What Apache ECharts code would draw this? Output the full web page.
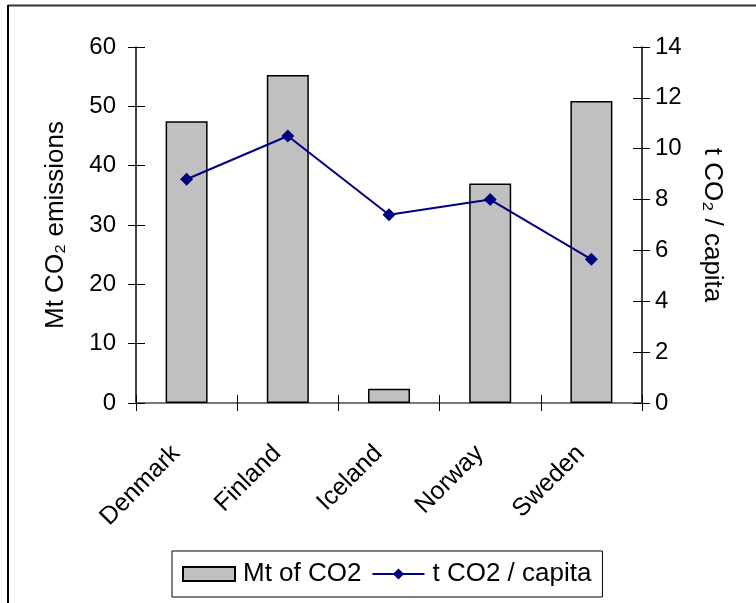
<!DOCTYPE html>
<html>
<head>
<meta charset="utf-8">
<script src="https://cdn.jsdelivr.net/npm/echarts@6/dist/echarts.min.js"></script>
<style>
  html, body { margin: 0; padding: 0; background: #fff; }
  #main { width: 756px; height: 603px; }
</style>
</head>
<body>
<div id="main"></div>
<script>
var countries = ['Denmark', 'Finland', 'Iceland', 'Norway', 'Sweden'];
var mtCO2 = [47.5, 55.3, 2.4, 37.0, 50.9];
var perCapita = [8.8, 10.5, 7.4, 8.0, 5.65];
var leftTicks = { min: 0, max: 60, interval: 10 };
var rightTicks = { min: 0, max: 14, interval: 2 };

var font = 'Liberation Sans, Arial, sans-serif';
var myChart = echarts.init(document.getElementById('main'));

option = {
    textStyle: { fontFamily: font },
    animation: false,
    grid: { left: 136, right: 114, top: 47, bottom: 200 },
    graphic: [
        { type: 'line', shape: { x1: 8, y1: 5.5, x2: 756, y2: 5.5 }, style: { stroke: '#333', lineWidth: 2 } },
        { type: 'line', shape: { x1: 8, y1: 5, x2: 8, y2: 603 }, style: { stroke: '#000', lineWidth: 2 } }
    ],
    legend: {
        left: 172,
        top: 551,
        padding: [10, 11, 10, 10],
        borderColor: '#000',
        borderWidth: 1,
        itemWidth: 52,
        itemHeight: 14,
        itemGap: 10,
        textStyle: { fontSize: 26, color: '#000', fontFamily: font, padding: [0, 0, 0, 3] },
        data: [{ name: 'Mt of CO2', icon: 'rect' }, { name: 't CO2 / capita' }]
    },
    xAxis: [
        {
            type: 'category',
            data: countries,
            position: 'bottom',
            axisLine: { lineStyle: { color: '#333', width: 1.5 } },
            axisTick: { show: true, length: 8, lineStyle: { color: '#000' } },
            axisLabel: { rotate: 45, fontSize: 25, color: '#000', margin: 36, padding: [0, 15, 0, 0], fontFamily: font },
            splitLine: { show: false }
        },
        {
            type: 'category',
            data: countries,
            position: 'bottom',
            axisLine: { show: false },
            axisTick: { show: true, inside: true, length: 8, lineStyle: { color: '#000' } },
            axisLabel: { show: false },
            splitLine: { show: false }
        },
        {
            type: 'category',
            data: countries,
            position: 'top',
            axisLine: { lineStyle: { color: '#808080', width: 1.5 } },
            axisTick: { show: false },
            axisLabel: { show: false },
            splitLine: { show: false }
        }
    ],
    yAxis: [
        {
            type: 'value',
            position: 'left',
            min: leftTicks.min, max: leftTicks.max, interval: leftTicks.interval,
            name: 'Mt CO\u2082 emissions',
            nameLocation: 'middle',
            nameGap: 67,
            nameTextStyle: { fontSize: 26, color: '#000', fontFamily: font },
            axisLine: { show: true, lineStyle: { color: '#000', width: 1.5 } },
            axisTick: { show: true, length: 8, lineStyle: { color: '#000' } },
            axisLabel: { fontSize: 24, color: '#000', margin: 20, fontFamily: font },
            splitLine: { show: false }
        },
        {
            type: 'value',
            position: 'right',
            min: rightTicks.min, max: rightTicks.max, interval: rightTicks.interval,
            name: 't CO\u2082 / capita',
            nameLocation: 'middle',
            nameRotate: -90,
            nameGap: 57,
            nameTextStyle: { fontSize: 26, color: '#000', fontFamily: font },
            axisLine: { show: true, lineStyle: { color: '#000', width: 1.5 } },
            axisTick: { show: true, length: 8, lineStyle: { color: '#000' } },
            axisLabel: { fontSize: 24, color: '#000', margin: 13, fontFamily: font },
            splitLine: { show: false }
        },
        {
            type: 'value',
            position: 'left',
            min: leftTicks.min, max: leftTicks.max, interval: leftTicks.interval,
            axisLine: { show: false },
            axisTick: { show: true, inside: true, length: 9, lineStyle: { color: '#000' } },
            axisLabel: { show: false },
            splitLine: { show: false }
        },
        {
            type: 'value',
            position: 'right',
            min: rightTicks.min, max: rightTicks.max, interval: rightTicks.interval,
            axisLine: { show: false },
            axisTick: { show: true, inside: true, length: 9, lineStyle: { color: '#000' } },
            axisLabel: { show: false },
            splitLine: { show: false }
        }
    ],
    series: [
        {
            name: 'Mt of CO2',
            type: 'bar',
            xAxisIndex: 0,
            yAxisIndex: 0,
            barWidth: 42,
            itemStyle: { color: '#c0c0c0', borderColor: '#000', borderWidth: 1.5 },
            data: mtCO2
        },
        {
            name: 't CO2 / capita',
            type: 'line',
            xAxisIndex: 0,
            yAxisIndex: 1,
            symbol: 'diamond',
            symbolSize: 13,
            lineStyle: { color: '#000080', width: 2 },
            itemStyle: { color: '#000080' },
            data: perCapita
        }
    ]
};
myChart.setOption(option);
</script>
</body>
</html>
